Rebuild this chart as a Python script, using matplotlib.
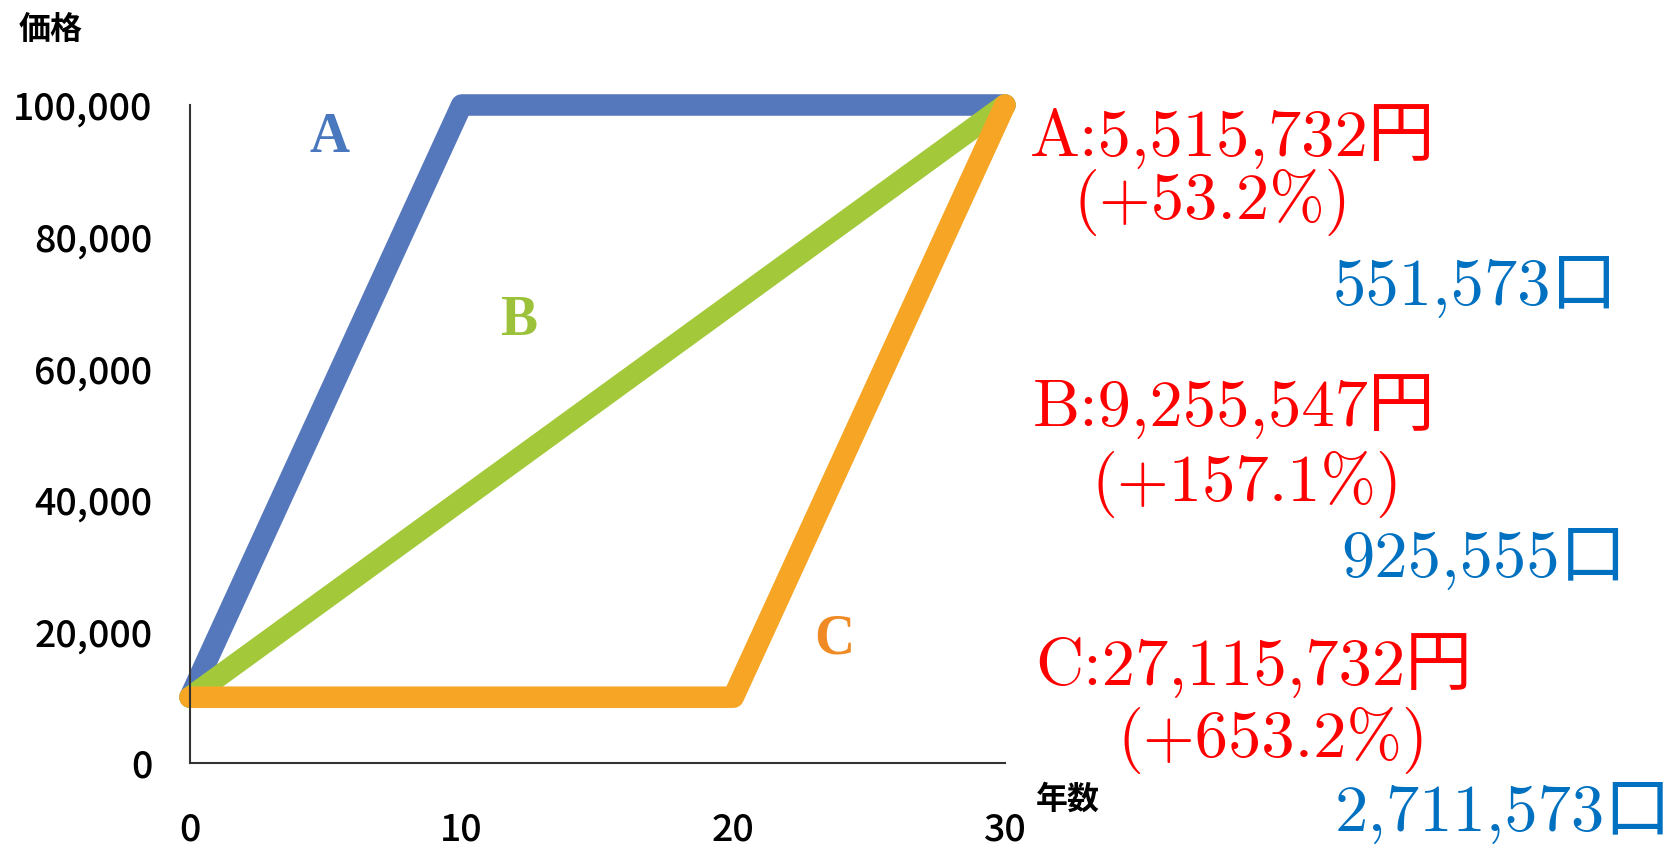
import matplotlib
matplotlib.use("Agg")
import matplotlib.pyplot as plt

# =========================
# データ
# =========================
years_a = [0, 10, 30]
price_a = [10000, 100000, 100000]
years_b = [0, 30]
price_b = [10000, 100000]
years_c = [0, 20, 30]
price_c = [10000, 10000, 100000]

series_names = ["A", "B", "C"]
series_colors = ["#5577bb", "#a3c93a", "#f7a525"]
label_colors = ["#4a78be", "#9cc23c", "#f08a24"]
label_pos = [(5.15, 95000), (12.1, 67200), (23.7, 18700)]

x_ticks = [0, 10, 20, 30]
y_ticks = [0, 20000, 40000, 60000, 80000, 100000]

total_texts = ["A:5,515,732円", "B:9,255,547円", "C:27,115,732円"]
pct_texts = ["(+53.2%)", "(+157.1%)", "(+653.2%)"]
unit_texts = ["551,573口", "925,555口", "2,711,573口"]

# =========================
# 図
# =========================
W, H = 1678, 849
fig = plt.figure(figsize=(W / 100, H / 100), dpi=100)
ax = fig.add_axes([190 / W, 1 - 763 / H, (1005 - 190) / W, (763 - 105) / H])

sans = ["Noto Sans CJK JP", "DejaVu Sans"]
serif = ["cmr10", "Noto Sans CJK JP"]

for xs, ys, c in zip([years_a, years_b, years_c], [price_a, price_b, price_c], series_colors):
    ax.plot(xs, ys, color=c, linewidth=15.5, solid_capstyle="round",
            solid_joinstyle="round", clip_on=False)

for name, c, (lx, ly) in zip(series_names, label_colors, label_pos):
    ax.text(lx, ly, name, color=c, fontsize=40, fontweight="bold",
            family=["Liberation Serif"], ha="center", va="center")

ax.set_xlim(0, 30)
ax.set_ylim(0, 100000)
ax.set_xticks(x_ticks)
ax.set_xticklabels([str(v) for v in x_ticks])
ax.set_yticks(y_ticks)
ax.set_yticklabels([f"{v:,}" for v in y_ticks])
ax.tick_params(length=0)
ax.tick_params(axis="x", pad=34)
ax.tick_params(axis="y", pad=27)
for lab in ax.get_xticklabels() + ax.get_yticklabels():
    lab.set_family(sans)
    lab.set_fontsize(27)
    lab.set_fontweight("medium")

for s in ["top", "right"]:
    ax.spines[s].set_visible(False)
for s in ["left", "bottom"]:
    ax.spines[s].set_color("#333333")
    ax.spines[s].set_linewidth(1.5)

fig.text(51 / W, 1 - 30 / H, "価格", family=sans, fontsize=23, fontweight="bold",
         ha="center", va="center")
fig.text(1068 / W, 1 - 800 / H, "年数", family=sans, fontsize=23, fontweight="bold",
         ha="center", va="center")

# 右側の注記
total_pos = [(1030, 137), (1033, 407), (1035, 666)]
pct_pos = [(1074, 203), (1092, 484), (1118, 741)]
unit_pos = [(1618, 287), (1627, 559), (1672, 813)]
fs = 48
for t, (px, py) in zip(total_texts, total_pos):
    fig.text(px / W, 1 - py / H, t, family=serif, fontsize=fs, color="#ff0000",
             ha="left", va="center")
for t, (px, py) in zip(pct_texts, pct_pos):
    fig.text(px / W, 1 - py / H, t, family=serif, fontsize=fs, color="#ff0000",
             ha="left", va="center")
for t, (px, py) in zip(unit_texts, unit_pos):
    fig.text(px / W, 1 - py / H, t, family=serif, fontsize=fs, color="#0070c0",
             ha="right", va="center")

fig.savefig("out.png", dpi=100)
